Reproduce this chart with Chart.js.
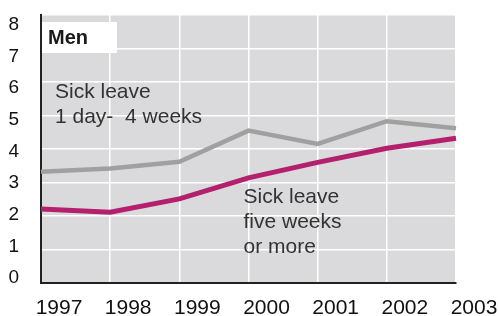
<!DOCTYPE html>
<html>
<head>
<meta charset="utf-8">
<script src="https://cdn.jsdelivr.net/npm/chart.js@4/dist/chart.umd.min.js"></script>
<style>
  html, body { margin: 0; padding: 0; background: #fff; }
  #wrap { width: 498px; height: 316px; }
</style>
</head>
<body>
<div id="wrap"><canvas id="sickChart" width="498" height="316"></canvas></div>
<script>
const years = ["1997", "1998", "1999", "2000", "2001", "2002", "2003"];
const shortLeave = [3.32, 3.42, 3.62, 4.55, 4.15, 4.83, 4.62];
const longLeave = [2.21, 2.11, 2.51, 3.14, 3.6, 4.02, 4.32];
const yTicks = [0, 1, 2, 3, 4, 5, 6, 7, 8];

let ctx = document.getElementById("sickChart").getContext("2d");

// grey plot background + text annotations
const plotDecor = {
  id: "plotDecor",
  beforeDraw: (chart) => {
    const { ctx, chartArea } = chart;
    ctx.save();
    ctx.fillStyle = "#dadadc";
    ctx.fillRect(chartArea.left + 1, chartArea.top, chartArea.width - 1, chartArea.height);
    ctx.restore();
  },
  afterDatasetsDraw: (chart) => {
    const { ctx, chartArea } = chart;
    const x = chart.scales.x;
    ctx.save();
    // "Men" box
    ctx.fillStyle = "#fff";
    ctx.fillRect(chartArea.left + 1, chartArea.top + 7, 75, 31);
    ctx.fillStyle = "#1a1a1a";
    ctx.font = "bold 20px 'Liberation Sans', Arial, sans-serif";
    ctx.textBaseline = "middle";
    ctx.fillText("Men", chartArea.left + 7, chartArea.top + 23);

    ctx.fillStyle = "#333";
    ctx.font = "21px 'Liberation Sans', Arial, sans-serif";
    ctx.fillText("Sick leave", x.getPixelForValue(0) + 14, 92);
    ctx.fillText("1 day-  4 weeks", x.getPixelForValue(0) + 14, 117);

    ctx.fillText("Sick leave", x.getPixelForValue(3) - 5, 197);
    ctx.fillText("five weeks", x.getPixelForValue(3) - 5, 222);
    ctx.fillText("or more", x.getPixelForValue(3) - 5, 247);
    ctx.restore();
  }
};

new Chart(ctx, {
  type: "line",
  data: {
    labels: years,
    datasets: [
      {
        label: "Sick leave 1 day- 4 weeks",
        data: shortLeave,
        borderColor: "#a0a0a0",
        borderWidth: 4.5,
        pointRadius: 0,
        tension: 0,
        yAxisID: "y"
      },
      {
        label: "Sick leave five weeks or more",
        data: longLeave,
        borderColor: "#b3206d",
        borderWidth: 5,
        pointRadius: 0,
        tension: 0,
        yAxisID: "y"
      }
    ]
  },
  options: {
    responsive: false,
    animation: false,
    layout: { padding: { top: 15, right: 42, left: 0, bottom: 0 } },
    plugins: {
      legend: { display: false },
      tooltip: { enabled: false }
    },
    scales: {
      x: {
        offset: false,
        grid: { color: "#fff", lineWidth: 1.5, drawTicks: false },
        border: { display: true, color: "#222", width: 2 },
        ticks: {
          color: "#111",
          font: { family: "'Liberation Sans', Arial, sans-serif", size: 21 },
          padding: 13,
          labelOffset: 18,
          maxRotation: 0,
          autoSkip: false
        },
        afterFit: (s) => { s.height = 33; s.paddingLeft = 0; s.paddingRight = 0; }
      },
      // label axis: numbers spaced a bit tighter than the grid
      yl: {
        position: "left",
        min: -0.158,
        max: 8.316,
        grid: { display: false, drawTicks: false },
        border: { display: true, color: "#222", width: 2 },
        ticks: {
          color: "#111",
          font: { family: "'Liberation Sans', Arial, sans-serif", size: 19 },
          padding: 22
        },
        afterBuildTicks: (s) => { s.ticks = yTicks.map(v => ({ value: v })); },
        afterFit: (s) => { s.width = 41; s.paddingTop = 0; s.paddingBottom = 0; }
      },
      y: {
        position: "left",
        min: 0,
        max: 8,
        grid: { color: "#fff", lineWidth: 1.5, drawTicks: false },
        border: { display: false },
        ticks: { display: false, stepSize: 1 },
        afterFit: (s) => { s.width = 0; s.paddingTop = 0; s.paddingBottom = 0; }
      }
    }
  },
  plugins: [plotDecor]
});
</script>
</body>
</html>
